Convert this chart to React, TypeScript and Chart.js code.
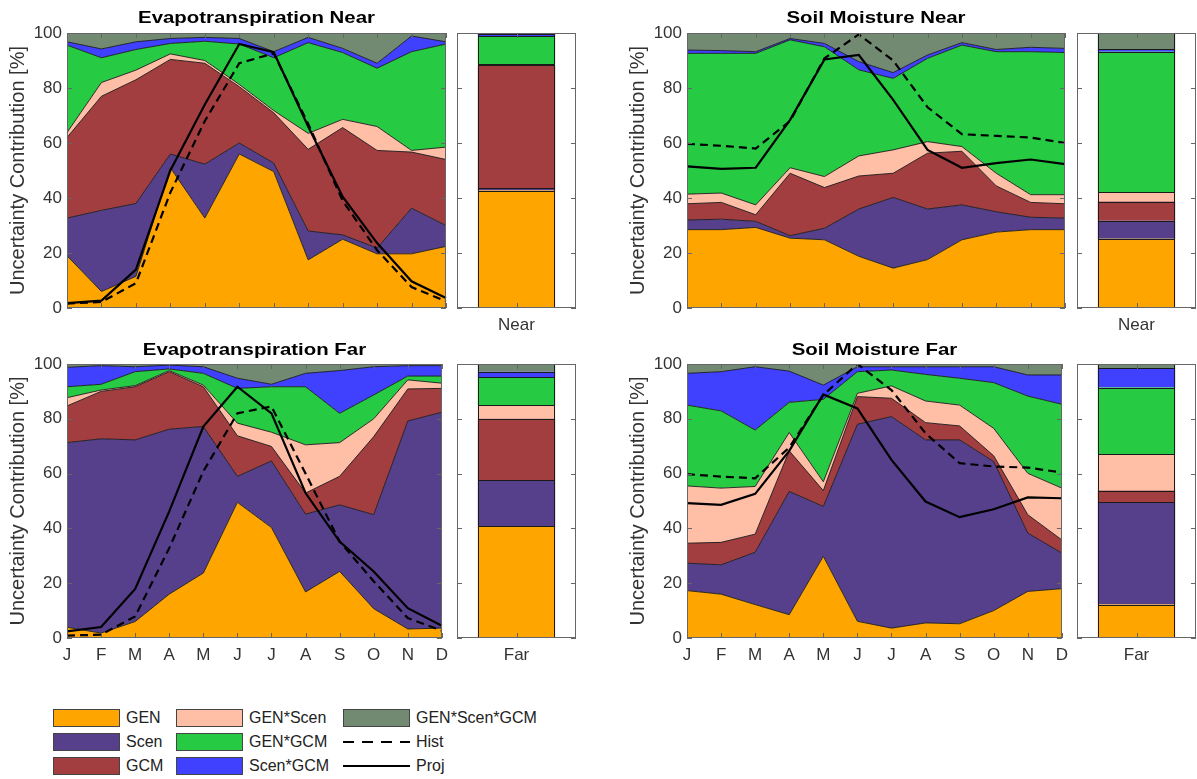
import React, { useEffect, useRef } from 'react';
import { Chart, registerables } from 'chart.js';

Chart.register(...registerables);

// ---------- categories / labels ----------
const MONTHS = ['J', 'F', 'M', 'A', 'M', 'J', 'J', 'A', 'S', 'O', 'N', 'D'];
const COMPONENTS = ['GEN', 'Scen', 'GCM', 'GEN*Scen', 'GEN*GCM', 'Scen*GCM', 'GEN*Scen*GCM'];
const Y_TICKS = [0, 20, 40, 60, 80, 100];
const TOTAL = [100, 100, 100, 100, 100, 100, 100, 100, 100, 100, 100, 100];

// ---------- Evapotranspiration Near (cumulative upper boundaries, %) ----------
const etNearGEN = [19, 6, 11.5, 51, 32.7, 56, 49.6, 17.5, 25, 19.7, 19.7, 22.4];
const etNearScen = [32.7, 35.5, 38, 56, 52.3, 60, 52.7, 28, 26.6, 21.8, 36.3, 30];
const etNearGCM = [62, 77, 83, 90.4, 89, 80.5, 71, 57.7, 65.6, 57.3, 56.7, 54];
const etNearGenScen = [63.8, 82, 86.5, 92.4, 90, 81.3, 71.8, 63.5, 68.6, 66, 57.3, 58.5];
const etNearGenGCM = [95.6, 91, 94, 96.2, 97, 96, 91, 96.5, 92.9, 87.2, 93.2, 96];
const etNearScenGCM = [96.8, 94.2, 96.8, 98, 98.4, 98, 93.2, 98.4, 94.4, 89, 98.9, 96.8];
const etNearHist = [1.6, 2.2, 9, 42, 68, 89, 92.6, 67, 39, 21, 7.6, 2.4];
const etNearProj = [1.8, 2.7, 14, 50, 74, 96, 93, 66, 40.5, 23.6, 9.7, 3.6];
const etNearBar = [42.7, 43.5, 88.3, 88.7, 98.9, 99.8, 100];

// ---------- Soil Moisture Near ----------
const smNearGEN = [28.5, 28.5, 29.3, 25.4, 24.8, 18.8, 14.5, 17.6, 24.8, 27.6, 28.5, 28.5];
const smNearScen = [32, 32.3, 31.5, 26.3, 29, 36, 40.2, 36, 37.5, 35, 33, 32.7];
const smNearGCM = [37.9, 38.4, 33.9, 49, 43.8, 48, 49, 56.3, 57, 44.4, 38.4, 37.9];
const smNearGenScen = [41.4, 41.8, 37.5, 51, 47.8, 55.3, 57.5, 60.5, 58.7, 49, 41.2, 41.2];
const smNearGenGCM = [92.6, 92.6, 92.6, 97.5, 95, 86.6, 83.5, 90.8, 95.6, 93.2, 93.2, 92.9];
const smNearScenGCM = [93.8, 93.6, 93.2, 98, 96.2, 89.6, 85.6, 92, 96.5, 94, 94.8, 94.4];
const smNearHist = [59.7, 59, 58, 68, 90.8, 99.5, 90, 73, 63.2, 62.6, 62, 60];
const smNearProj = [51.5, 50.6, 51, 68.4, 90.4, 92, 75.7, 57.5, 51, 52.7, 54, 52.3];
const smNearBar = [25.2, 31.7, 38.7, 42.1, 93.2, 94.1, 100];

// ---------- Evapotranspiration Far ----------
const etFarGEN = [3.9, 1.8, 6, 16, 23.7, 49.5, 40.3, 16.8, 24.3, 10.7, 3.3, 3.6];
const etFarScen = [71.3, 72.7, 72.3, 76.2, 77.2, 59, 64.6, 45.2, 48.6, 45, 79.2, 82.4];
const etFarGCM = [84.7, 90, 91.7, 97.2, 91.7, 73.8, 69.9, 52.9, 59, 73.5, 90.9, 91.1];
const etFarGenScen = [87.7, 90.5, 92.1, 97.6, 92.3, 78.4, 75.1, 70.5, 71.3, 80, 94.2, 93];
const etFarGenGCM = [91.7, 92.6, 97.2, 98.2, 96.6, 91.1, 91.7, 91.7, 82, 88.7, 95.6, 95.6];
const etFarScenGCM = [98.8, 99.4, 99, 99.6, 99, 94.8, 92.6, 96.6, 97.6, 99, 99.4, 99.4];
const etFarHist = [0.9, 1.2, 7.9, 32.8, 60.8, 82, 84.5, 60, 35.2, 20.7, 7.3, 2.7];
const etFarProj = [2.4, 4, 17.9, 46.2, 77.2, 91.7, 82, 52.9, 35.2, 24.3, 10.9, 4.5];
const etFarBar = [40.7, 57.5, 80, 85, 95.1, 97.2, 100];

// ---------- Soil Moisture Far ----------
const smFarGEN = [17.3, 16, 12.2, 8.5, 29.8, 6.1, 3.6, 5.5, 5.2, 10, 17, 18];
const smFarScen = [27.3, 26.7, 31.3, 53.5, 48, 78, 80.8, 72.3, 72.3, 64.4, 38.3, 31];
const smFarGCM = [34.6, 34.9, 37.9, 68.3, 53.8, 88.1, 87.5, 78.6, 77.4, 66.5, 45, 35.8];
const smFarGenScen = [55.5, 54.7, 55.3, 75, 57, 89.3, 92, 86.5, 85, 76.5, 60.1, 54.7];
const smFarGenGCM = [85, 82.9, 75.9, 86, 87.1, 97.2, 97.8, 96.2, 94.8, 93.2, 88.3, 85.3];
const smFarScenGCM = [96.6, 97.2, 99, 97.4, 92.3, 99, 99, 99, 99, 99, 96, 96];
const smFarHist = [59.8, 58.9, 58.3, 69.5, 88.7, 100, 90.5, 74.7, 63.8, 62.6, 62.2, 60.4];
const smFarProj = [49.2, 48.6, 52.6, 68.3, 88.9, 83.8, 65, 49.8, 44.1, 47, 51.3, 51];
const smFarBar = [12.2, 49.6, 53.8, 67.1, 91.4, 98.5, 100];

// ---------- styles ----------
const COLORS = ['#FFA500', '#56408C', '#A33E40', '#FFBEA6', '#26CA43', '#4040FF', '#738A72'];
const EDGE = '#1a1a1a';
const FONT = "'Liberation Sans', Arial, Helvetica, sans-serif";
const TEXT = '#333333';
const FRAME = '#666666';

type Rect = { x: number; y: number; w: number; h: number };
type Plot = { L: number; T: number; R: number; B: number };

function framePlugin(tick: number) {
  return {
    id: 'frameTicks',
    afterDatasetsDraw(chart: any) {
      const { ctx, chartArea } = chart;
      const { left, right, top, bottom } = chartArea;
      ctx.save();
      ctx.strokeStyle = FRAME;
      ctx.lineWidth = 1;
      ctx.beginPath();
      const ys = chart.scales.y;
      ys.ticks.forEach((_t: any, i: number) => {
        const py = Math.round(ys.getPixelForTick(i)) + 0.5;
        ctx.moveTo(left, py);
        ctx.lineTo(left + tick, py);
        ctx.moveTo(right, py);
        ctx.lineTo(right - tick, py);
      });
      const xs = chart.scales.x;
      xs.ticks.forEach((_t: any, i: number) => {
        const px = Math.round(xs.getPixelForTick(i)) + 0.5;
        ctx.moveTo(px, bottom);
        ctx.lineTo(px, bottom - tick);
        ctx.moveTo(px, top);
        ctx.lineTo(px, top + tick);
      });
      ctx.stroke();
      ctx.strokeRect(Math.round(left) + 0.5, Math.round(top) + 0.5, Math.round(right - left) - 1, Math.round(bottom - top) - 1);
      ctx.restore();
    },
  };
}

// crisp edges for the stacked side bar, drawn at the bar elements' own positions
const barEdgePlugin = {
  id: 'barEdges',
  afterDatasetsDraw(chart: any) {
    const { ctx } = chart;
    const n = chart.data.datasets.length;
    let l = 0;
    let r = 0;
    let yTop = Infinity;
    let yBot = -Infinity;
    const ys: number[] = [];
    for (let i = 0; i < n; i++) {
      const el = chart.getDatasetMeta(i).data[0];
      if (!el) continue;
      const p = el.getProps(['x', 'y', 'base', 'width'], true);
      l = Math.round(p.x - p.width / 2);
      r = Math.round(p.x + p.width / 2);
      const a = Math.min(p.y, p.base);
      const b = Math.max(p.y, p.base);
      yTop = Math.min(yTop, a);
      yBot = Math.max(yBot, b);
      ys.push(a);
    }
    ctx.save();
    ctx.strokeStyle = EDGE;
    ctx.lineWidth = 1;
    ctx.beginPath();
    ys.forEach((y) => {
      const py = Math.round(y) + 0.5;
      ctx.moveTo(l, py);
      ctx.lineTo(r, py);
    });
    ctx.moveTo(l + 0.5, Math.round(yTop));
    ctx.lineTo(l + 0.5, Math.round(yBot));
    ctx.moveTo(r - 0.5, Math.round(yTop));
    ctx.lineTo(r - 0.5, Math.round(yBot));
    ctx.stroke();
    ctx.restore();
  },
};

function titlePlugin(text: string, y: number) {
  return {
    id: 'panelTitle',
    afterDraw(chart: any) {
      const { ctx, chartArea } = chart;
      const cx = (chartArea.left + chartArea.right) / 2;
      ctx.save();
      ctx.font = `bold 17px ${FONT}`;
      ctx.fillStyle = '#000';
      ctx.textAlign = 'center';
      ctx.textBaseline = 'middle';
      ctx.translate(cx, y);
      ctx.scale(1.2, 1);
      ctx.fillText(text, 0, 0);
      ctx.restore();
    },
  };
}

function areaConfig(
  r: Rect,
  p: Plot,
  title: string,
  titleY: number,
  bounds: number[][],
  hist: number[],
  proj: number[],
  showMonths: boolean
) {
  const datasets: any[] = bounds.map((d, i) => ({
    label: COMPONENTS[i],
    data: d,
    backgroundColor: COLORS[i],
    borderColor: i === bounds.length - 1 ? 'rgba(0,0,0,0)' : EDGE,
    borderWidth: 0.9,
    fill: i === 0 ? 'origin' : '-1',
    pointRadius: 0,
    tension: 0,
    order: 1,
  }));
  datasets.push({
    label: 'Hist',
    data: hist,
    borderColor: '#000',
    borderWidth: 2.2,
    borderDash: [8, 5],
    fill: false,
    pointRadius: 0,
    tension: 0,
    order: 0,
  });
  datasets.push({
    label: 'Proj',
    data: proj,
    borderColor: '#000',
    borderWidth: 2.2,
    fill: false,
    pointRadius: 0,
    tension: 0,
    order: 0,
  });
  const yw = p.L - r.x;
  const xh = r.y + r.h - p.B;
  return {
    type: 'line',
    data: { labels: MONTHS, datasets },
    options: {
      responsive: false,
      animation: false,
      devicePixelRatio: 1,
      layout: { padding: { left: 0, top: p.T - r.y, right: r.x + r.w - p.R, bottom: 0 } },
      plugins: {
        legend: { display: false },
        tooltip: { enabled: false },
        filler: { drawTime: 'beforeDatasetsDraw' },
      },
      scales: {
        x: {
          type: 'category',
          offset: false,
          grid: { display: false, drawTicks: false },
          border: { display: false },
          ticks: {
            display: showMonths,
            autoSkip: false,
            maxRotation: 0,
            padding: 7,
            color: TEXT,
            font: { family: FONT, size: 17 },
          },
          afterFit: (s: any) => {
            s.height = xh;
          },
        },
        y: {
          min: 0,
          max: 100,
          afterBuildTicks: (s: any) => {
            s.ticks = Y_TICKS.map((v) => ({ value: v }));
          },
          grid: { display: false, drawTicks: false },
          border: { display: false },
          ticks: { padding: 5, color: TEXT, font: { family: FONT, size: 17 } },
          title: {
            display: true,
            text: 'Uncertainty Contribution [%]',
            color: TEXT,
            font: { family: FONT, size: 20 },
            padding: { top: 6, bottom: 0 },
          },
          afterFit: (s: any) => {
            s.width = yw;
          },
        },
      },
    },
    plugins: [framePlugin(5), titlePlugin(title, titleY)],
  };
}

function barConfig(r: Rect, p: Plot, label: string, bounds: number[]) {
  const datasets = bounds.map((top, i) => ({
    label: COMPONENTS[i],
    data: [[i === 0 ? 0 : bounds[i - 1], top]],
    backgroundColor: COLORS[i],
    borderWidth: 0,
    grouped: false,
    barPercentage: 0.65,
    categoryPercentage: 1,
  }));
  const xh = r.y + r.h - p.B;
  return {
    type: 'bar',
    data: { labels: [label], datasets },
    options: {
      responsive: false,
      animation: false,
      devicePixelRatio: 1,
      layout: { padding: { left: p.L - r.x, top: p.T - r.y, right: r.x + r.w - p.R, bottom: 0 } },
      plugins: { legend: { display: false }, tooltip: { enabled: false } },
      scales: {
        x: {
          grid: { display: false, drawTicks: false },
          border: { display: false },
          ticks: { padding: 7, color: TEXT, font: { family: FONT, size: 17 } },
          afterFit: (s: any) => {
            s.height = xh;
          },
        },
        y: {
          min: 0,
          max: 100,
          afterBuildTicks: (s: any) => {
            s.ticks = Y_TICKS.map((v) => ({ value: v }));
          },
          grid: { display: false, drawTicks: false },
          border: { display: false },
          ticks: { display: false },
          afterFit: (s: any) => {
            s.width = 0;
          },
        },
      },
    },
    plugins: [barEdgePlugin, framePlugin(5)],
  };
}

function ChartCanvas({ r, make }: { r: Rect; make: () => any }) {
  const ref = useRef<HTMLCanvasElement>(null);
  useEffect(() => {
    const chart = new Chart(ref.current as HTMLCanvasElement, make());
    return () => chart.destroy();
  }, []);
  return (
    <canvas
      ref={ref}
      width={r.w}
      height={r.h}
      style={{ position: 'absolute', left: r.x, top: r.y, width: r.w, height: r.h }}
    />
  );
}

type PanelSpec = {
  title: string;
  barLabel: string;
  area: Rect;
  plot: Plot;
  bar: Rect;
  barPlot: Plot;
  titleY: number;
  bounds: number[][];
  hist: number[];
  proj: number[];
  barBounds: number[];
  months: boolean;
};

const TOP: Omit<Plot, 'L' | 'R'> = { T: 33, B: 308 };
const BOT: Omit<Plot, 'L' | 'R'> = { T: 364, B: 638 };

const PANELS: PanelSpec[] = [
  {
    title: 'Evapotranspiration Near',
    barLabel: 'Near',
    area: { x: 0, y: 0, w: 455, h: 340 },
    plot: { L: 67, R: 446, ...TOP },
    bar: { x: 452, y: 0, w: 130, h: 340 },
    barPlot: { L: 457, R: 576, ...TOP },
    titleY: 18.5,
    bounds: [etNearGEN, etNearScen, etNearGCM, etNearGenScen, etNearGenGCM, etNearScenGCM, TOTAL],
    hist: etNearHist,
    proj: etNearProj,
    barBounds: etNearBar,
    months: false,
  },
  {
    title: 'Soil Moisture Near',
    barLabel: 'Near',
    area: { x: 620, y: 0, w: 455, h: 340 },
    plot: { L: 687, R: 1065, ...TOP },
    bar: { x: 1070, y: 0, w: 127, h: 340 },
    barPlot: { L: 1077, R: 1196, ...TOP },
    titleY: 18.5,
    bounds: [smNearGEN, smNearScen, smNearGCM, smNearGenScen, smNearGenGCM, smNearScenGCM, TOTAL],
    hist: smNearHist,
    proj: smNearProj,
    barBounds: smNearBar,
    months: false,
  },
  {
    title: 'Evapotranspiration Far',
    barLabel: 'Far',
    area: { x: 0, y: 340, w: 455, h: 340 },
    plot: { L: 67, R: 446, ...BOT },
    bar: { x: 452, y: 340, w: 130, h: 340 },
    barPlot: { L: 457, R: 576, ...BOT },
    titleY: 10.8,
    bounds: [etFarGEN, etFarScen, etFarGCM, etFarGenScen, etFarGenGCM, etFarScenGCM, TOTAL],
    hist: etFarHist,
    proj: etFarProj,
    barBounds: etFarBar,
    months: true,
  },
  {
    title: 'Soil Moisture Far',
    barLabel: 'Far',
    area: { x: 620, y: 340, w: 455, h: 340 },
    plot: { L: 687, R: 1065, ...BOT },
    bar: { x: 1070, y: 340, w: 127, h: 340 },
    barPlot: { L: 1077, R: 1196, ...BOT },
    titleY: 10.8,
    bounds: [smFarGEN, smFarScen, smFarGCM, smFarGenScen, smFarGenGCM, smFarScenGCM, TOTAL],
    hist: smFarHist,
    proj: smFarProj,
    barBounds: smFarBar,
    months: true,
  },
];

const LEGEND_COLS = [
  { sx: 53, tx: 126, items: [{ t: 'GEN', c: 0 }, { t: 'Scen', c: 1 }, { t: 'GCM', c: 2 }] },
  { sx: 176, tx: 249, items: [{ t: 'GEN*Scen', c: 3 }, { t: 'GEN*GCM', c: 4 }, { t: 'Scen*GCM', c: 5 }] },
  { sx: 343, tx: 416, items: [{ t: 'GEN*Scen*GCM', c: 6 }, { t: 'Hist', c: -1 }, { t: 'Proj', c: -2 }] },
];
const LEGEND_ROWS = [718, 742, 766];

function Legend() {
  const els: React.ReactNode[] = [];
  LEGEND_COLS.forEach((col, ci) => {
    col.items.forEach((it, ri) => {
      const cy = LEGEND_ROWS[ri];
      if (it.c >= 0) {
        els.push(
          <div
            key={`s${ci}${ri}`}
            style={{
              position: 'absolute',
              left: col.sx,
              top: cy - 9,
              width: 67,
              height: 18,
              boxSizing: 'border-box',
              background: COLORS[it.c],
              border: '1px solid #444',
            }}
          />
        );
      } else {
        els.push(
          <div
            key={`l${ci}${ri}`}
            style={{
              position: 'absolute',
              left: col.sx,
              top: cy - 1,
              width: 67,
              height: 2,
              background:
                it.c === -1
                  ? 'repeating-linear-gradient(to right, #000 0px, #000 11px, transparent 11px, transparent 19px)'
                  : '#000',
            }}
          />
        );
      }
      els.push(
        <div
          key={`t${ci}${ri}`}
          style={{
            position: 'absolute',
            left: col.tx,
            top: cy - 10,
            height: 20,
            lineHeight: '20px',
            fontFamily: FONT,
            fontSize: 16,
            color: '#222',
            whiteSpace: 'nowrap',
          }}
        >
          {it.t}
        </div>
      );
    });
  });
  return <>{els}</>;
}

export default function App() {
  return (
    <div
      style={{
        position: 'absolute',
        left: 0,
        top: 0,
        width: 1197,
        height: 779,
        background: '#fff',
        overflow: 'hidden',
      }}
    >
      {PANELS.map((p, i) => (
        <React.Fragment key={i}>
          <ChartCanvas
            r={p.area}
            make={() => areaConfig(p.area, p.plot, p.title, p.titleY, p.bounds, p.hist, p.proj, p.months)}
          />
          <ChartCanvas r={p.bar} make={() => barConfig(p.bar, p.barPlot, p.barLabel, p.barBounds)} />
        </React.Fragment>
      ))}
      <Legend />
    </div>
  );
}
